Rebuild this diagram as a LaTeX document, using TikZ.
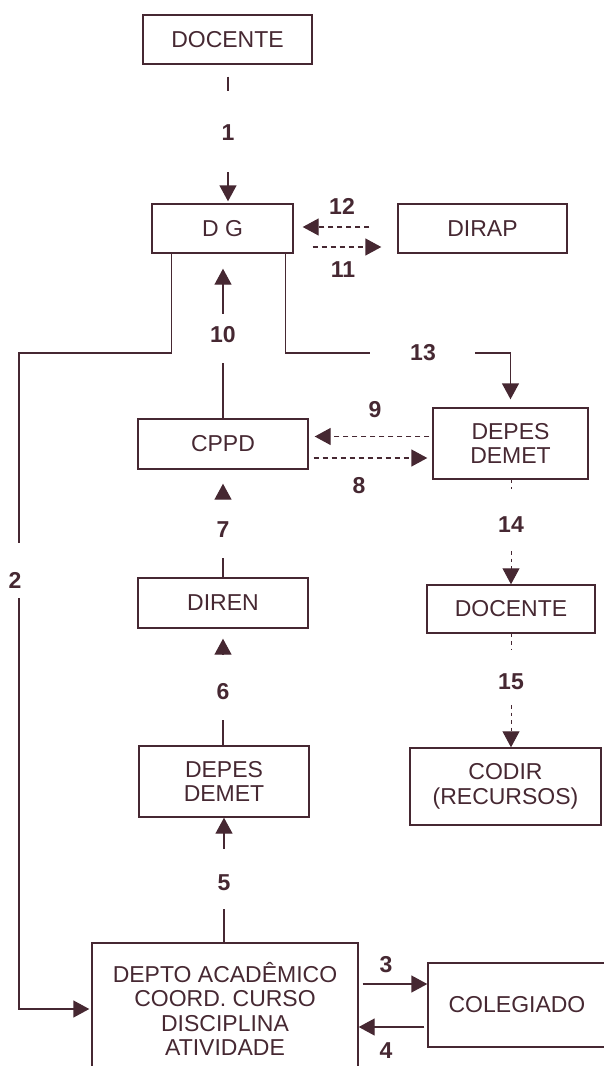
\documentclass[tikz,border=0pt]{standalone}
\usepackage{fontspec}
\setmainfont{Liberation Sans}
\usetikzlibrary{arrows.meta}
\definecolor{ink}{RGB}{70,40,50}

\begin{document}
\begin{tikzpicture}[x=1pt,y=-1pt,
	every node/.style={text=ink},
	box/.style={draw=ink,line width=1.4pt,align=center,inner sep=0pt,font=\fontsize{23}{24.5}\selectfont},
	num/.style={inner sep=0pt,font=\fontsize{23}{24.5}\selectfont\bfseries},
	line/.style={draw=ink,line width=1.4pt},
	flow/.style={line,-{Triangle[length=16pt,width=17pt]}},
	dashflow/.style={flow,dash pattern=on 5.5pt off 3.5pt},
	dotline/.style={line,line width=1pt,dash pattern=on 3.5pt off 4pt},
	dotflow/.style={dotline,-{Triangle[length=16pt,width=17pt]}}]
		
		\useasboundingbox (0,0) rectangle (603,1066);
		
		\node[box,minimum width=169,minimum height=49] (docA) at (227.5,39.5) {DOCENTE};
		\node[box,minimum width=141,minimum height=49] (dg) at (222.5,228.5) {D G};
		\node[box,minimum width=169,minimum height=49] (dirap) at (482.5,228.5) {DIRAP};
		\node[box,minimum width=170,minimum height=50] (cppd) at (223,444) {CPPD};
		\node[box,minimum width=155,minimum height=71] (depesR) at (510.5,443.5) {DEPES\\DEMET};
		\node[box,minimum width=170,minimum height=50] (diren) at (223,603) {DIREN};
		\node[box,minimum width=168,minimum height=48] (docB) at (511,609) {DOCENTE};
		\node[box,minimum width=170,minimum height=71] (depesL) at (224,781.5) {DEPES\\DEMET};
		\node[box,minimum width=191,minimum height=77] (codir) at (505.5,786.5) {CODIR\\(RECURSOS)};
		\node[box,minimum width=266,minimum height=132] (depto) at (225,1009) {DEPTO ACADÊMICO\\COORD. CURSO\\DISCIPLINA\\ATIVIDADE};
		\node[box,minimum width=178,minimum height=84] (colegiado) at (517,1005) {COLEGIADO};
		
		\foreach \n/\x/\y in {1/228/133, 2/15/580, 3/386/965, 4/386/1051, 5/224/883,
			6/223/692, 7/223/530, 8/359/486, 9/375/410, 10/223/335,
			11/343/270, 12/342/206, 13/423/353, 14/511/525, 15/511/682}{
			\node[num] (n\n) at (\x,\y) {\n};
		}
		
		\coordinate (c2) at (19,353);
		
		\draw[line,shorten <=12pt,shorten >=34pt] (n1 |- docA.south) -- (n1);
		\draw[flow,shorten <=31pt,shorten >=2pt] (n1) -- (n1 |- dg.north);
		
		\draw[line,shorten >=37pt] ([xshift=20pt]dg.south west) |- (c2) -- (c2 |- n2);
		\draw[flow,shorten <=18pt,shorten >=2pt] (c2 |- n2) |- (depto.west);
		
		\draw[flow,shorten <=4pt] ([yshift=25pt]depto.east) -- ([yshift=25pt]depto.east -| colegiado.west);
		\draw[flow,shorten <=3pt] ([yshift=-18pt]depto.east -| colegiado.west) -- ([yshift=-18pt]depto.east);
		
		\draw[line,shorten >=18pt] (n5 |- depto.north) -- (n5);
		\draw[flow,shorten <=26pt] (n5) -- (n5 |- depesL.south);
		\draw[line,shorten >=20pt] (n6 |- depesL.north) -- (n6);
		\draw[flow,shorten <=29pt,shorten >=10pt] (n6) -- (n6 |- diren.south);
		\draw[line,shorten >=20pt] (n7 |- diren.north) -- (n7);
		\draw[flow,shorten <=24pt,shorten >=14pt] (n7) -- (n7 |- cppd.south);
		
		\draw[dashflow,shorten <=5pt,shorten >=5pt] ([yshift=-14pt]cppd.east) -- ([yshift=-14pt]cppd.east -| depesR.west);
		\draw[dashflow,shorten <=3pt,shorten >=6pt] ([yshift=7pt]depesR.west) -- ([yshift=7pt]depesR.west -| cppd.east);
		
		\draw[line,shorten >=20pt] (n10 |- cppd.north) -- (n10);
		\draw[flow,shorten <=13pt,shorten >=15pt] (n10) -- (n10 |- dg.south);
		
		\draw[dashflow,shorten <=19pt,shorten >=16pt] ([yshift=-18.5pt]dg.east) -- ([yshift=-18.5pt]dg.east -| dirap.west);
		\draw[dashflow,shorten <=28pt,shorten >=9pt] ([yshift=1.5pt]dirap.west) -- ([yshift=1.5pt]dirap.west -| dg.east);
		
		\draw[line,shorten >=40pt] ([xshift=-8pt]dg.south east) |- (n13);
		\draw[flow,shorten <=39pt,shorten >=8pt] (n13) -| (depesR.north);
		
		\draw[dotline,shorten >=28pt] (n14 |- depesR.south) -- (n14);
		\draw[dotflow,shorten <=18pt] (n14) -- (n14 |- docB.north);
		\draw[dotline,shorten >=25pt] (n15 |- docB.south) -- (n15);
		\draw[dotflow,shorten <=15pt] (n15) -- (n15 |- codir.north);
		
\end{tikzpicture}
\end{document}
